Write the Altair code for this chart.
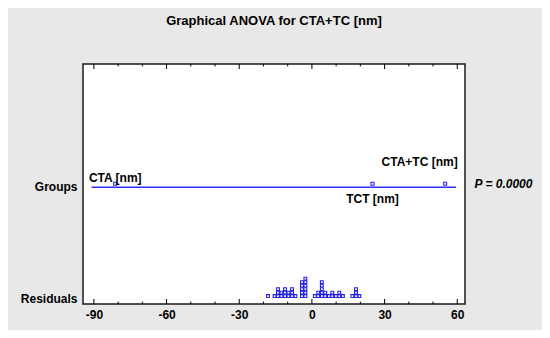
import altair as alt
import pandas as pd

# ---------------- data ----------------
title_text = "Graphical ANOVA for CTA+TC [nm]"
group_names = ["CTA [nm]", "TCT [nm]", "CTA+TC [nm]"]
group_values = [-81.2, 25.0, 55.0]
group_line_range = [-91.0, 59.5]
residuals = [
    -18.1,
    -15.4,
    -14.0, -14.0, -14.0,
    -12.6, -12.6,
    -11.1, -11.1, -11.1,
    -9.7, -9.7,
    -8.2, -8.2, -8.2,
    -6.8,
    -4.1, -4.1, -4.1, -4.1, -4.1,
    -2.7, -2.7, -2.7, -2.7, -2.7, -2.7,
    1.2,
    2.6, 2.6,
    4.1, 4.1, 4.1, 4.1, 4.1,
    5.5, 5.5,
    7.0,
    8.4, 8.4,
    9.9,
    11.3, 11.3,
    12.8,
    16.7,
    18.2, 18.2, 18.2,
    19.6,
]
x_tick_labels = [-90, -60, -30, 0, 30, 60]
x_minor_ticks = [-80, -70, -50, -40, -20, -10, 10, 20, 40, 50]
row_labels = ["Groups", "Residuals"]
p_label = "P = 0.0000"

# ---------------- layout constants ----------------
BLUE = "#2424e0"
LINE_BLUE = "#2f2fff"
FONT = "Liberation Sans"
Y_GROUP_LINE = 48.6
Y_GROUP_PTS = 50.1
Y_GROUP_LABEL = 48.9
Y_RES_LABEL = 2.1
RES_BASE = 3.3
RES_STEP = 1.45

x_scale = alt.Scale(domain=[-94.5, 63.2], nice=False, zero=False)
y_scale = alt.Scale(domain=[0, 100], nice=False, zero=False)

x_axis = alt.Axis(values=x_tick_labels, labelExpr="'' + datum.value", ticks=False,
                  tickSize=0, domain=False, grid=False, title=None, labelPadding=5,
                  labelFlush=False)
y_axis = alt.Axis(values=[Y_GROUP_LABEL, Y_RES_LABEL],
                  labelExpr=f"datum.value > 20 ? '{row_labels[0]}' : '{row_labels[1]}'",
                  ticks=False, tickSize=0, domain=False, grid=False, title=None,
                  labelPadding=6)


def X(field):
    return alt.X(field, type="quantitative", scale=x_scale, axis=x_axis)


def Y(field):
    return alt.Y(field, type="quantitative", scale=y_scale, axis=y_axis)


res_df = pd.DataFrame({"r": residuals})
grp_df = pd.DataFrame({"name": group_names, "v": group_values})
line_df = pd.DataFrame({"x1": [group_line_range[0]], "x2": [group_line_range[1]]})
ticks_df = pd.DataFrame({"t": x_tick_labels + x_minor_ticks,
                         "major": [True] * len(x_tick_labels) + [False] * len(x_minor_ticks)})

# residual dot plot
res_layer = alt.Chart(res_df).transform_window(
    k="row_number()", groupby=["r"]
).transform_calculate(
    y=f"{RES_BASE} + (datum.k - 1) * {RES_STEP}"
).mark_point(shape="square", filled=False, size=8, strokeWidth=1.1, color=BLUE, opacity=1).encode(
    x=X("r"), y=Y("y")
)

# group line
line_layer = alt.Chart(line_df).transform_calculate(yy=f"{Y_GROUP_LINE}").mark_rule(
    color=LINE_BLUE, strokeWidth=1.5
).encode(x=X("x1"), x2="x2", y=Y("yy"))

# group points
grp_layer = alt.Chart(grp_df).transform_calculate(yy=f"{Y_GROUP_PTS}").mark_point(
    shape="square", filled=False, size=9, strokeWidth=1.1, color=BLUE, opacity=1
).encode(x=X("v"), y=Y("yy"))

# group labels (offsets are styling)
label_offsets = [(0, -6, "center"), (0, 15.5, "center"), (-25.5, -21.5, "center")]
label_layers = []
for name, (dx, dy, al) in zip(group_names, label_offsets):
    label_layers.append(
        alt.Chart(grp_df).transform_filter(alt.datum.name == name)
        .transform_calculate(yy=f"{Y_GROUP_PTS}")
        .mark_text(font=FONT, fontSize=12, fontWeight="bold", color="black",
                   dx=dx, dy=dy, align=al, baseline="middle")
        .encode(x=X("v"), y=Y("yy"), text="name:N")
    )

# inward ticks (bottom and top)
tick_bottom = alt.Chart(ticks_df).transform_calculate(
    y0="0", y1="datum.major ? 2.1 : 1.0"
).mark_rule(color="black", strokeWidth=1).encode(x=X("t"), y=Y("y0"), y2="y1")
tick_top = alt.Chart(ticks_df).transform_calculate(
    y0="100", y1="datum.major ? 97.9 : 99.0"
).mark_rule(color="black", strokeWidth=1).encode(x=X("t"), y=Y("y0"), y2="y1")

main = alt.layer(tick_bottom, tick_top, line_layer, grp_layer, res_layer, *label_layers)

# right-hand P label as a right axis
p_df = pd.DataFrame({"x": [0.0], "y": [Y_GROUP_PTS]})
p_layer = alt.Chart(p_df).mark_point(opacity=0).encode(
    x=X("x"),
    y=alt.Y("y:Q", scale=y_scale,
            axis=alt.Axis(orient="right", values=[Y_GROUP_PTS], labelExpr=f"'{p_label}'",
                          ticks=False, tickSize=0, domain=False, grid=False, title=None,
                          labelPadding=9, labelFontStyle="italic")),
)

chart = alt.layer(main, p_layer).resolve_scale(y="independent").properties(
    width=382, height=240,
    autosize=alt.AutoSizeParams(type="none"),
    padding={"left": 75, "top": 56, "right": 77, "bottom": 26},
    background="#e8e8e8",
    title=alt.TitleParams(text=title_text, font=FONT, fontSize=13, fontWeight="bold",
                          color="black", anchor="middle", offset=36),
).configure_view(
    stroke="#1a1a1a", strokeWidth=1.5, fill="white"
).configure_axis(
    labelFont=FONT, labelFontSize=12, labelFontWeight="bold", labelColor="black"
)

chart.save("out.html", embed_options={"renderer": "svg", "actions": False})
